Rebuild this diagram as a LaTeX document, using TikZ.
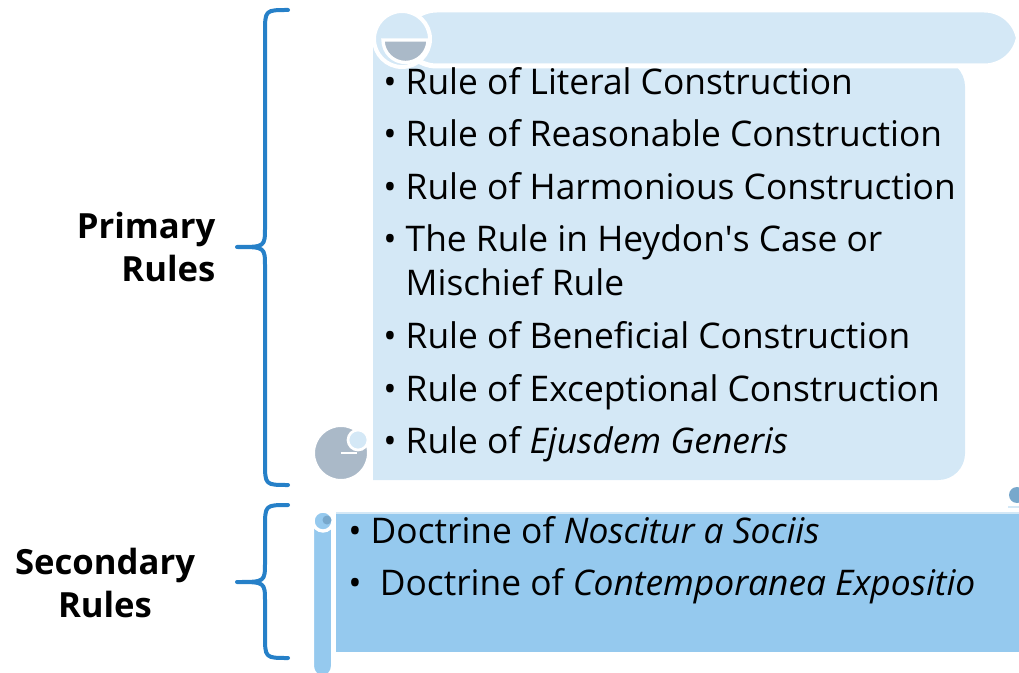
\documentclass[tikz,border=0pt]{standalone}
\usepackage{fontspec}
\setmainfont{Open Sans}
\usetikzlibrary{positioning}
\definecolor{lightscroll}{HTML}{D4E8F6}
\definecolor{darkscroll}{HTML}{95C9EE}
\definecolor{curlgray}{HTML}{AAB9C8}
\definecolor{curlblue}{HTML}{78A8CC}
\definecolor{bracecol}{HTML}{2680C8}
\tikzset{
	ruleitem/.style = {anchor=base west, inner sep=0pt, align=left,
	 font=\fontsize{26.5}{33}\selectfont},
	rulename/.style = {inner sep=0pt, font=\fontsize{26}{32}\selectfont\bfseries},
	bracket/.style = {draw=bracecol, line width=3pt, line cap=round, line join=round},
	cutline/.style = {draw=white, line width=3pt}}
\tikzset{
	bigcurl/.pic = {
	 \filldraw [fill=lightscroll, cutline] (0,0) circle (28);
	 \filldraw [fill=curlgray, cutline, line width=2.5pt] (26,1) -- (-19,1) arc [start angle=180, end angle=0, radius=22.5] -- cycle;
	 }
	}

\begin{document}
\begin{tikzpicture}[x=0.75pt, y=-0.75pt]
\useasboundingbox (0,0) rectangle (1019,673);

% SCROLLS
\fill [lightscroll] (373,39) -- (373,480) {[rounded corners=20] -- (965,480) -- (965,60)} -- cycle;
\filldraw [fill=curlgray, cutline] (341,453) circle (28);
\filldraw [fill=lightscroll, cutline, line width=2pt] (358,440) circle (10);
\draw [cutline, line width=2pt] (341,453) -- (357,453);
\filldraw [fill=lightscroll, cutline, line width=3.75pt, rounded corners=26] (402,10) rectangle (1019,66);
\pic at (402,39) {bigcurl};

\fill [darkscroll] (336,513) rectangle (1019,652);
\draw [lightscroll, line width=1pt] (336,513) -- (1019,513);
\filldraw [fill=darkscroll, cutline, rounded corners=9] (312,511) rectangle (333,678);
\filldraw [fill=darkscroll, cutline, line width=2.5pt] (323,521) circle (10);
\fill [curlblue] (327,520) circle (4.5);
\fill [curlblue] (1017,495) circle (8);
\draw [lightscroll, line width=1pt] (1008,507) -- (1019,507);

% NODES
\coordinate (ptip) at (237,247);
\coordinate (stip) at (237,582);
\node (prim) [rulename, align=right, left=16pt of ptip] {Primary\\Rules};
\node (sec) [rulename, align=center, anchor=center] at (105,583) {Secondary\\Rules};

\node (lit) [ruleitem] at (383,95) {• Rule of Literal Construction};
\node (reas) [ruleitem] at (383,147) {• Rule of Reasonable Construction};
\node (harm) [ruleitem] at (383,200) {• Rule of Harmonious Construction};
\node (heyd) [ruleitem] at (383,296) {• The Rule in Heydon\textquotesingle s Case or\\\hphantom{• }Mischief Rule};
\node (bene) [ruleitem] at (383,348) {• Rule of Beneficial Construction};
\node (exce) [ruleitem] at (383,401) {• Rule of Exceptional Construction};
\node (ejus) [ruleitem] at (383,453) {• Rule of \textit{Ejusdem Generis}};
\node (nosc) [ruleitem] at (348,543) {• Doctrine of \textit{Noscitur a Sociis}};
\node (cont) [ruleitem] at (348,595) {•\ \ Doctrine of \textit{Contemporanea Expositio}};

% BRACES
\draw [bracket] (288,10) .. controls (265,10) .. (265,33) -- (265,227) .. controls (265,247) .. (ptip) .. controls (265,247) .. (265,267) -- (265,462) .. controls (265,485) .. (288,485);
\draw [bracket] (288,505) .. controls (265,505) .. (265,528) -- (265,562) .. controls (265,582) .. (stip) .. controls (265,582) .. (265,602) -- (265,635) .. controls (265,658) .. (288,658);

\end{tikzpicture}
\end{document}
